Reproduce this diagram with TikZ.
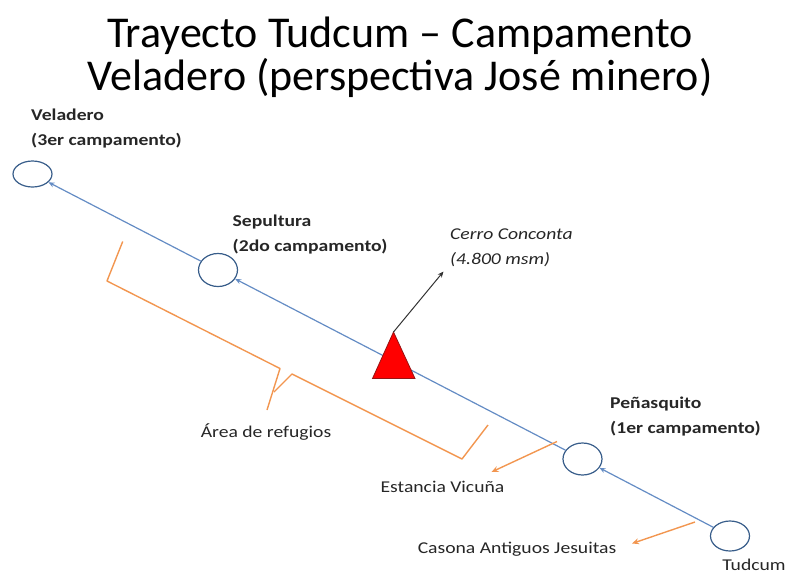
\documentclass[tikz,border=0pt]{standalone}
\usepackage{fontspec}
\setmainfont{Carlito}
\newfontfamily\labelfont[FakeStretch=1.19]{Carlito}
\usetikzlibrary{arrows.meta}
\definecolor{lineblue}{RGB}{100,140,196}
\definecolor{circblue}{RGB}{56,93,138}
\definecolor{braceorange}{RGB}{242,150,80}
\definecolor{tridark}{RGB}{150,20,20}
\tikzset{
  camp/.style={ellipse, draw=circblue, line width=1.2pt, inner sep=0pt, minimum width=39pt, minimum height=32pt},
  route/.style={draw=lineblue, line width=1.2pt, -{Stealth[length=6pt,width=5pt]}},
  orangearrow/.style={draw=braceorange, line width=1.4pt, -{Stealth[length=7pt,width=6pt]}},
  bracestyle/.style={draw=braceorange, line width=1.4pt, line join=round},
  boldlabel/.style={font=\labelfont\fontsize{16.5}{25}\selectfont\bfseries, align=left, anchor=west, inner sep=0pt, text=black!85},
  plainlabel/.style={font=\labelfont\fontsize{16.5}{25}\selectfont, inner sep=0pt, text=black!85},
  titlestyle/.style={font=\fontsize{44}{48}\selectfont, anchor=base, inner sep=0pt}
}
\usetikzlibrary{shapes.geometric}
\begin{document}
\begin{tikzpicture}[x=1pt,y=-1pt]
\useasboundingbox (0,0) rectangle (788,574);
% title
\node[titlestyle] (t1) at (400,47) {Trayecto Tudcum – Campamento};
\node[titlestyle] (t2) at (400,90) {Veladero (perspectiva José minero)};
% camps
\node[camp, minimum height=26pt] (vel) at (32.5,174) {};
\node[camp, minimum height=33pt] (sep) at (218,270) {};
\node[camp] (pen) at (582.5,459) {};
\node[camp, minimum height=30pt] (tud) at (730,536) {};
% labels
\node[boldlabel] (lvel) at (31,128.5) {Veladero\\(3er campamento)};
\node[boldlabel] (lsep) at (232.5,235) {Sepultura\\(2do campamento)};
\node[boldlabel] (lpen) at (610,416.5) {Peñasquito\\(1er campamento)};
\node[boldlabel, font=\labelfont\fontsize{16.5}{25}\selectfont\itshape] (lcer) at (450,247.5) {Cerro Conconta\\(4.800 msm)};
\node[plainlabel] (lref) at (266,432) {Área de refugios};
\node[plainlabel] (lev) at (442.5,487) {Estancia Vicuña};
\node[plainlabel] (lcas) at (517,549) {Casona Antiguos Jesuitas};
\node[plainlabel] (ltud) at (754,565) {Tudcum};
% route
\draw[route] (tud) -- (pen);
\draw[route] (pen) -- (sep);
\draw[route] (sep) -- (vel);
% mountain
\coordinate (apex) at (393.5,332);
\coordinate (bl) at (372.5,378.5);
\coordinate (br) at (415,378.5);
\filldraw[fill=red, draw=tridark, line width=0.8pt, line join=miter] (apex) -- (bl) -- (br) -- cycle;
\coordinate (cerrotip) at (443.5,271.5);
\draw[line width=1pt, black!80, -{Stealth[length=6pt,width=5pt]}] (apex) -- (cerrotip);
% orange arrows
\coordinate (evs) at (557,441.5);
\coordinate (evt) at (491.5,472);
\draw[orangearrow] (evs) -- (evt);
\coordinate (cas) at (695,522);
\coordinate (cat) at (632,543.5);
\draw[orangearrow] (cas) -- (cat);
% brace
\draw[bracestyle] (122.7,241.5) -- (107,281) -- (280,368.5) -- (267,410);
\draw[bracestyle] (274,392) -- (292,374) -- (462,459) -- (488,425);
\end{tikzpicture}
\end{document}
